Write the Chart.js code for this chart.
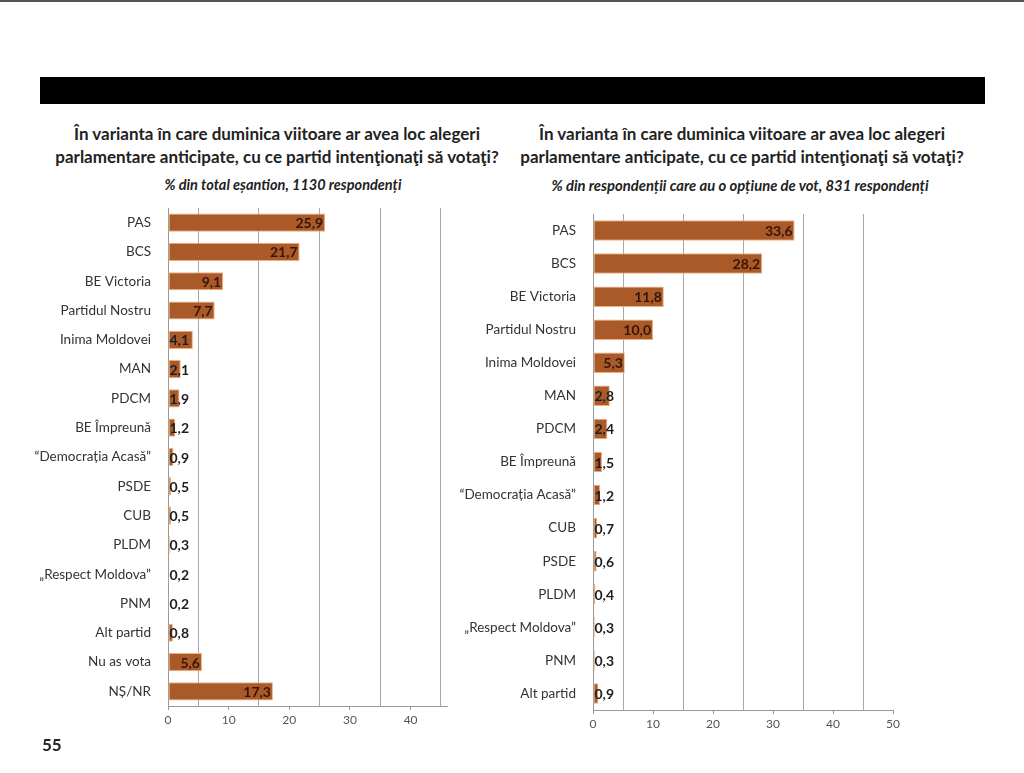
<!DOCTYPE html>
<html>
<head>
<meta charset="utf-8">
<script src="https://cdn.jsdelivr.net/npm/chart.js@4"></script>
<style>
   body { margin: 0; width: 1024px; height: 773px; background: #fff; position: relative; overflow: hidden; font-family: Lato, "Open Sans", sans-serif; }
   #topline { position: absolute; left: 0; top: 0; width: 1024px; height: 2px; background: #555; }
   #blackbar { position: absolute; left: 40px; top: 77px; width: 945px; height: 27px; background: #000; }
   .title { position: absolute; text-align: center; font-weight: bold; font-size: 17px; line-height: 23px; color: #222; white-space: nowrap; }
   .sub { position: absolute; text-align: center; font-weight: bold; font-style: italic; font-size: 14.5px; color: #222; white-space: nowrap; }
   .box { position: absolute; }
   #page { position: absolute; left: 42px; top: 734px; font-weight: bold; font-size: 17px; color: #222; }
</style>
</head>
<body>
<div id="topline"></div>
<div id="blackbar"></div>

<div class="title" style="left:17px; top:122px; width:520px;">În varianta în care duminica viitoare ar avea loc alegeri<br>parlamentare anticipate, cu ce partid intenţionaţi să votaţi?</div>
<div class="sub" style="left:113px; top:176px; width:340px;">% din total eșantion, 1130 respondenți</div>

<div class="title" style="left:482px; top:122px; width:520px;">În varianta în care duminica viitoare ar avea loc alegeri<br>parlamentare anticipate, cu ce partid intenţionaţi să votaţi?</div>
<div class="sub" style="left:520px; top:176px; width:440px; font-size:14.8px;">% din respondenții care au o opțiune de vot, 831 respondenți</div>

<div class="box" style="left:20px; top:198px; width:445px; height:538px;"><canvas id="leftChart"></canvas></div>
<div class="box" style="left:445px; top:204px; width:466px; height:536px;"><canvas id="rightChart"></canvas></div>

<div id="page">55</div>

<script>
const labelsLeft = ["PAS", "BCS", "BE Victoria", "Partidul Nostru", "Inima Moldovei", "MAN", "PDCM", "BE Împreună", "“Democrația Acasă”", "PSDE", "CUB", "PLDM", "„Respect Moldova”", "PNM", "Alt partid", "Nu as vota", "NȘ/NR"];
const valuesLeft = [25.9, 21.7, 9.1, 7.7, 4.1, 2.1, 1.9, 1.2, 0.9, 0.5, 0.5, 0.3, 0.2, 0.2, 0.8, 5.6, 17.3];

const labelsRight = ["PAS", "BCS", "BE Victoria", "Partidul Nostru", "Inima Moldovei", "MAN", "PDCM", "BE Împreună", "“Democrația Acasă”", "CUB", "PSDE", "PLDM", "„Respect Moldova”", "PNM", "Alt partid"];
const valuesRight = [33.6, 28.2, 11.8, 10.0, 5.3, 2.8, 2.4, 1.5, 1.2, 0.7, 0.6, 0.4, 0.3, 0.3, 0.9];

const xTicks = [0, 10, 20, 30, 40, 50];

function fmt(v) {
   return v.toFixed(1).replace(".", ",");
}

// value labels: inside end if the bar is wide enough, otherwise from the axis
const barLabels = {
   id: "barLabels",
   afterDatasetsDraw(chart) {
      const ctx = chart.ctx;
      const meta = chart.getDatasetMeta(0);
      const data = chart.data.datasets[0].data;
      ctx.save();
      ctx.font = "bold 14px Lato, sans-serif";
      ctx.textBaseline = "middle";
      meta.data.forEach((bar, i) => {
         const txt = fmt(data[i]);
         const w = ctx.measureText(txt).width;
         const barW = bar.x - bar.base;
         if (w + 5 <= barW) {
            ctx.fillStyle = "#3a1406";
            ctx.textAlign = "right";
            ctx.fillText(txt, bar.x - 2, bar.y + 1);
         } else {
            ctx.fillStyle = "#1e1e1e";
            ctx.textAlign = "left";
            ctx.fillText(txt, bar.base + 1, bar.y + 1);
         }
      });
      ctx.restore();
   }
};

function makeChart(id, labels, values, xMax) {
   const ctx = document.getElementById(id).getContext("2d");
   return new Chart(ctx, {
      type: "bar",
      data: {
         labels: labels,
         datasets: [{
            data: values,
            backgroundColor: "#a95a28",
            borderColor: "#eeb07c",
            borderWidth: 1,
            borderSkipped: false,
            barPercentage: 0.62,
            categoryPercentage: 1.0
         }]
      },
      options: {
         indexAxis: "y",
         responsive: true,
         maintainAspectRatio: false,
         animation: false,
         layout: { padding: { top: 10, right: 18, left: 0, bottom: 0 } },
         plugins: {
            legend: { display: false },
            tooltip: { enabled: false }
         },
         scales: {
            x: {
               min: 0,
               max: xMax,
               afterFit(scale) { scale.height = 30; },
               afterBuildTicks(scale) {
                  const t = [];
                  for (let v = 0; v <= xMax; v += 5) t.push({ value: v });
                  scale.ticks = t;
               },
               ticks: {
                  autoSkip: false,
                  maxRotation: 0,
                  padding: 3,
                  color: "#555",
                  font: { family: "Lato, sans-serif", size: 12 },
                  callback: (v) => xTicks.includes(v) ? String(v) : ""
               },
               grid: {
                  color: (c) => (c.tick && c.tick.value % 10 === 5) ? "#a8a8a8" : "rgba(0,0,0,0)",
                  tickColor: (c) => (c.tick && xTicks.includes(c.tick.value)) ? "#999" : "rgba(0,0,0,0)",
                  tickLength: 4,
                  lineWidth: 1
               },
               border: { display: true, color: "#999", width: 1 }
            },
            y: {
               afterFit(scale) {
                  scale.width = 148;
                  scale.paddingTop = 0;
                  scale.paddingBottom = 0;
               },
               ticks: {
                  padding: 9,
                  color: "#333",
                  font: { family: "Lato, sans-serif", size: 13.5 }
               },
               grid: { display: false },
               border: { display: true, color: "#999", width: 1 }
            }
         }
      },
      plugins: [barLabels]
   });
}

makeChart("leftChart", labelsLeft, valuesLeft, 46);
makeChart("rightChart", labelsRight, valuesRight, 50);
</script>
</body>
</html>
